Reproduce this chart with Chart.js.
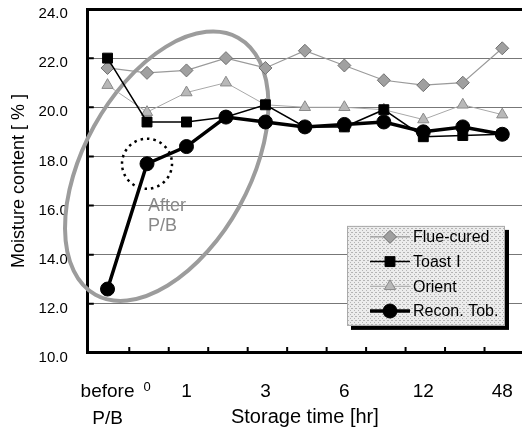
<!DOCTYPE html>
<html>
<head>
<meta charset="utf-8">
<script src="https://cdn.jsdelivr.net/npm/chart.js@4.4.1/dist/chart.umd.min.js"></script>
<style>
  html, body { margin: 0; padding: 0; background: #fff; }
  #wrap { width: 522px; height: 427px; }
</style>
</head>
<body>
<div id="wrap"><canvas id="chart" width="522" height="427"></canvas></div>
<script>
// storage time categories (blank ones are unlabelled steps on the original axis)
const timeLabels = [['before', 'P/B'], '0', '1', '', '3', '', '6', '', '12', '', '48'];

// moisture content [%]
const flueCured = [21.6, 21.4, 21.5, 22.0, 21.6, 22.3, 21.7, 21.1, 20.9, 21.0, 22.4];
const toast1    = [22.0, 19.4, 19.4, 19.6, 20.1, 19.2, 19.2, 19.9, 18.8, 18.85, 18.9];
const orient    = [20.9, 19.8, 20.6, 21.0, 20.1, 20.0, 20.0, 19.9, 19.5, 20.1, 19.7];
const reconTob  = [12.6, 17.7, 18.4, 19.6, 19.4, 19.2, 19.3, 19.4, 19.0, 19.2, 18.9];

const seriesNames = ['Flue-cured', 'Toast \u2160', 'Orient', 'Recon. Tob.'];

const yMin = 10, yMax = 24, yStep = 2;
const FONT = "'Liberation Sans', Arial, sans-serif";

// ============================================
// ANNOTATIONS, INNER TICKS + LEGEND (drawn by hand)
// ============================================
function stipple(ctx) {
  const c = document.createElement('canvas');
  c.width = 4; c.height = 4;
  const p = c.getContext('2d');
  p.fillStyle = '#ececec';
  p.fillRect(0, 0, 4, 4);
  p.fillStyle = '#b4b4b4';
  p.fillRect(0, 0, 1, 1);
  p.fillRect(2, 2, 1, 1);
  p.fillRect(3, 0, 1, 1);
  return ctx.createPattern(c, 'repeat');
}

const annotations = {
  id: 'annotations',
  beforeDatasetsDraw(chart) {
    const { ctx, chartArea, scales: { x, y } } = chart;
    ctx.save();
    // short tick marks pointing into the plot
    ctx.strokeStyle = '#000';
    ctx.lineWidth = 2;
    ctx.beginPath();
    for (let i = 0; i < x.ticks.length - 1; i++) {
      const px = (x.getPixelForValue(i) + x.getPixelForValue(i + 1)) / 2 + 2;
      ctx.moveTo(px, chartArea.bottom);
      ctx.lineTo(px, chartArea.bottom - 6);
    }
    y.ticks.forEach(t => {
      const py = y.getPixelForValue(t.value);
      ctx.moveTo(chartArea.left, py);
      ctx.lineTo(chartArea.left + 6, py);
    });
    ctx.stroke();

    // big ellipse round the early hours
    const cx = (x.getPixelForValue(1) + x.getPixelForValue(2)) / 2;
    const cy = y.getPixelForValue(17.6);
    ctx.strokeStyle = '#9c9c9c';
    ctx.lineWidth = 4;
    ctx.beginPath();
    ctx.ellipse(cx, cy, 147, 83, -61 * Math.PI / 180, 0, Math.PI * 2);
    ctx.stroke();
    ctx.restore();
  },
  afterDatasetsDraw(chart) {
    const { ctx, chartArea } = chart;
    const pt = chart.getDatasetMeta(3).data[1];

    ctx.save();
    // dotted ring round the first point after P/B
    ctx.strokeStyle = '#000';
    ctx.lineWidth = 2.5;
    ctx.setLineDash([2.5, 4]);
    ctx.beginPath();
    ctx.arc(pt.x, pt.y, 25, 0, Math.PI * 2);
    ctx.stroke();
    ctx.setLineDash([]);

    ctx.fillStyle = '#888';
    ctx.font = '18px ' + FONT;
    ctx.textAlign = 'left';
    ctx.textBaseline = 'middle';
    ctx.fillText('After', pt.x + 1, pt.y + 42);
    ctx.fillText('P/B', pt.x + 1, pt.y + 62);

    // legend box
    const lx = chartArea.right - 175, ly = chartArea.bottom - 127;
    const lw = 158, lh = 100;
    ctx.fillStyle = '#000';
    ctx.fillRect(lx + 4, ly + 4, lw, lh);
    ctx.fillStyle = stipple(ctx);
    ctx.fillRect(lx, ly, lw, lh);
    ctx.strokeStyle = '#aaa';
    ctx.lineWidth = 1;
    ctx.strokeRect(lx + 0.5, ly + 0.5, lw - 1, lh - 1);

    chart.data.datasets.forEach((ds, i) => {
      const yy = ly + 11 + i * 24.7;
      const x0 = lx + 23, x1 = lx + 63;
      ctx.strokeStyle = ds.borderColor;
      ctx.lineWidth = ds.borderWidth;
      ctx.beginPath();
      ctx.moveTo(x0, yy);
      ctx.lineTo(x1, yy);
      ctx.stroke();
      ctx.fillStyle = ds.pointBackgroundColor;
      ctx.strokeStyle = ds.pointBorderColor;
      ctx.lineWidth = ds.pointBorderWidth;
      Chart.helpers.drawPoint(ctx, {
        pointStyle: ds.pointStyle, radius: ds.pointRadius, rotation: 0, borderWidth: ds.pointBorderWidth
      }, (x0 + x1) / 2, yy);
      ctx.fillStyle = '#000';
      ctx.font = '16px ' + FONT;
      ctx.fillText(ds.label, x1 + 3, yy + 1);
    });
    ctx.restore();
  }
};

// ============================================
// CHART
// ============================================
new Chart(document.getElementById('chart'), {
  type: 'line',
  data: {
    labels: timeLabels,
    datasets: [
      {
        label: seriesNames[0], data: flueCured, order: 3,
        borderColor: '#9a9a9a', borderWidth: 1.2,
        pointStyle: 'rectRot', pointRadius: 6.5,
        pointBackgroundColor: '#a0a0a0', pointBorderColor: '#707070', pointBorderWidth: 1
      },
      {
        label: seriesNames[1], data: toast1, order: 1,
        borderColor: '#000', borderWidth: 1.5,
        pointStyle: 'rect', pointRadius: 7,
        pointBackgroundColor: '#000', pointBorderColor: '#000', pointBorderWidth: 1
      },
      {
        label: seriesNames[2], data: orient, order: 2,
        borderColor: '#a8a8a8', borderWidth: 1,
        pointStyle: 'triangle', pointRadius: 6.5,
        pointBackgroundColor: '#b8b8b8', pointBorderColor: '#8a8a8a', pointBorderWidth: 1
      },
      {
        label: seriesNames[3], data: reconTob, order: 0,
        borderColor: '#000', borderWidth: 3.5,
        pointStyle: 'circle', pointRadius: 7,
        pointBackgroundColor: '#000', pointBorderColor: '#000', pointBorderWidth: 1
      }
    ]
  },
  options: {
    responsive: false,
    animation: false,
    devicePixelRatio: 1,
    layout: { autoPadding: false, padding: { top: 9, left: 0, right: 0, bottom: 0 } },
    plugins: { legend: { display: false }, tooltip: { enabled: false } },
    elements: { line: { tension: 0 } },
    scales: {
      x: {
        offset: true,
        afterFit: s => { s.paddingLeft = 0; s.paddingRight = 0; },
        ticks: {
          autoSkip: false, maxRotation: 0, padding: 0, color: '#000',
          font: c => ({ family: FONT, size: c.index === 1 ? 13 : 19, lineHeight: 1.45 })
        },
        grid: { offset: true, drawOnChartArea: false, tickLength: 25, color: 'transparent', tickColor: 'transparent' },
        border: { color: '#000', width: 3 },
        title: {
          display: true, text: 'Storage time [hr]', color: '#000',
          font: { family: FONT, size: 20 }, padding: { top: -28, bottom: -2 }
        }
      },
      y: {
        min: yMin, max: yMax,
        afterFit: s => { s.paddingTop = 0; s.paddingBottom = 0; },
        ticks: {
          stepSize: yStep, color: '#000', padding: 0, labelOffset: 5,
          font: { family: FONT, size: 15 },
          callback: v => v.toFixed(1)
        },
        grid: {
          color: c => c.tick.value === yMax ? '#000' : '#777',
          lineWidth: c => c.tick.value === yMax ? 3 : 1,
          tickLength: 20, tickColor: 'transparent'
        },
        border: { color: '#000', width: 3 },
        title: {
          display: true, text: 'Moisture content [ % ]', color: '#000',
          font: { family: FONT, size: 18 }, padding: { top: 8, bottom: 9 }
        }
      }
    }
  },
  plugins: [annotations]
});
</script>
</body>
</html>
